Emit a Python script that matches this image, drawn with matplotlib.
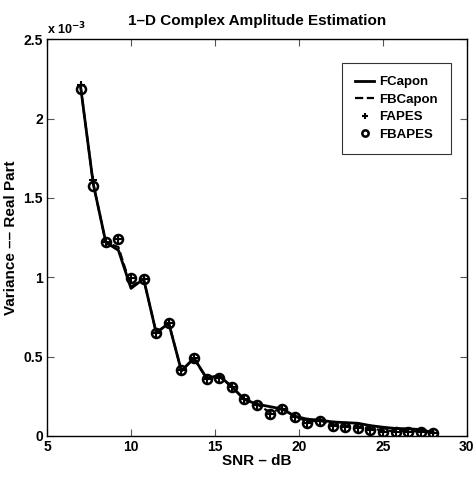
import matplotlib
matplotlib.use('Agg')
import matplotlib.pyplot as plt

plt.rcParams['font.family'] = ['Liberation Sans', 'DejaVu Sans']
plt.rcParams['font.weight'] = 'bold'

# SNR grid in dB
snr = [7, 7.75, 8.5, 9.25, 10, 10.75, 11.5, 12.25, 13, 13.75, 14.5, 15.25, 16,
       16.75, 17.5, 18.25, 19, 19.75, 20.5, 21.25, 22, 22.75, 23.5, 24.25, 25,
       25.75, 26.5, 27.25, 28]

# variances, in units of 1e-3
fcapon = [2.20, 1.59, 1.22, 1.17, 0.93, 0.99, 0.65, 0.71, 0.41, 0.49, 0.365, 0.38,
          0.31, 0.23, 0.20, 0.185, 0.17, 0.125, 0.105, 0.10, 0.088, 0.084, 0.08,
          0.065, 0.055, 0.047, 0.045, 0.04, 0.02]
fbcapon = [2.20, 1.59, 1.22, 1.19, 0.94, 0.99, 0.65, 0.71, 0.41, 0.49, 0.36, 0.375,
           0.31, 0.23, 0.20, 0.15, 0.17, 0.124, 0.09, 0.097, 0.07, 0.065, 0.058,
           0.048, 0.035, 0.03, 0.03, 0.028, 0.019]
fapes = [2.21, 1.61, 1.225, 1.24, 0.995, 0.99, 0.647, 0.714, 0.414, 0.493, 0.357,
         0.363, 0.309, 0.231, 0.195, 0.137, 0.168, 0.122, 0.08, 0.096, 0.061,
         0.055, 0.05, 0.038, 0.027, 0.023, 0.023, 0.023, 0.019]
fbapes = [2.185, 1.575, 1.225, 1.24, 0.995, 0.99, 0.647, 0.714, 0.414, 0.493,
          0.357, 0.363, 0.309, 0.231, 0.195, 0.137, 0.168, 0.122, 0.08, 0.096,
          0.061, 0.055, 0.05, 0.038, 0.027, 0.023, 0.023, 0.023, 0.019]

fig = plt.figure(figsize=(4.75, 4.78), dpi=100)
ax = fig.add_axes([0.099, 0.088, 0.884, 0.830])

ax.plot(snr, fcapon, '-', color='black', lw=2.0, label='FCapon')
ax.plot(snr, fbcapon, '--', color='black', lw=1.6, label='FBCapon')
ax.plot(snr, fapes, '+', color='black', ms=6, mew=1.5, ls='none', label='FAPES')
ax.plot(snr, fbapes, 'o', color='black', mfc='none', ms=6.5, mew=1.8, ls='none',
        label='FBAPES')

ax.set_xlim(5, 30)
ax.set_ylim(0, 2.5)
ax.set_xticks([5, 10, 15, 20, 25, 30])
ax.set_xticklabels(['5', '10', '15', '20', '25', '30'])
ax.set_yticks([0, 0.5, 1, 1.5, 2, 2.5])
ax.set_yticklabels(['0', '0.5', '1', '1.5', '2', '2.5'])
ax.tick_params(direction='in', top=True, right=True, labelsize=10, length=5,
               width=0.8, color='#555555', pad=3)
for s in ax.spines.values():
    s.set_linewidth(1.0)

ax.set_title('1\u2013D Complex Amplitude Estimation', fontsize=11, fontweight='bold', pad=10)
ax.set_xlabel('SNR \u2013 dB', fontsize=11, fontweight='bold', labelpad=0)
ax.set_ylabel('Variance \u2013\u2013 Real Part', fontsize=11, fontweight='bold', labelpad=4)
ax.text(0.0, 1.005, 'x 10$^{-3}$', transform=ax.transAxes, fontsize=9,
        fontweight='bold', ha='left', va='bottom')

leg = ax.legend(loc='upper right', bbox_to_anchor=(0.962, 0.94), fontsize=9.5,
                frameon=True, fancybox=False, edgecolor='black',
                handlelength=1.4, handletextpad=0.4, labelspacing=0.4,
                borderpad=1.0, borderaxespad=0, markerscale=0.7)
leg.get_frame().set_linewidth(0.8)

fig.savefig('out.png', dpi=100)
